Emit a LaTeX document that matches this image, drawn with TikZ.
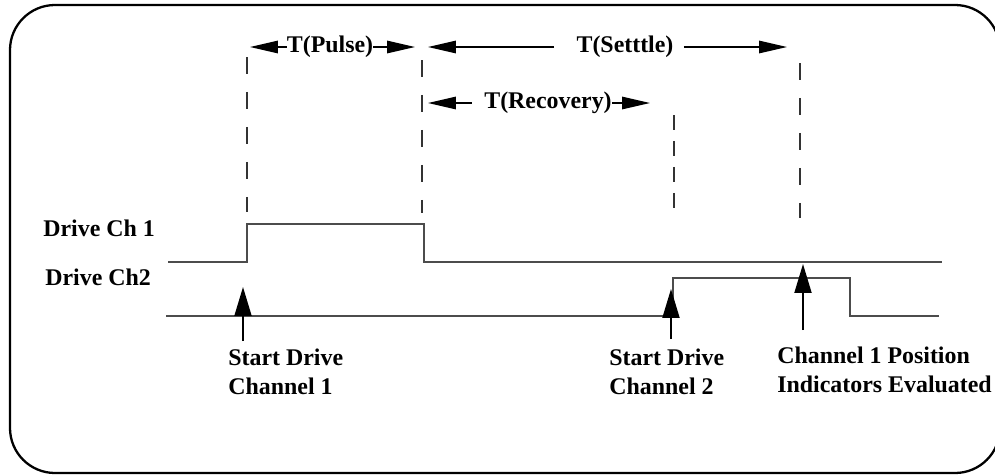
\documentclass[tikz,border=0pt]{standalone}
\usepackage{fontspec}
\setmainfont{Liberation Serif}
\usetikzlibrary{arrows.meta, positioning}
\tikzset{
    frame/.style={draw=black, line width=1.3pt, rounded corners=0.9cm},
    signal/.style={draw=black!70, line width=0.85pt},
    guide/.style={draw=black!80, line width=0.6pt, dash pattern=on 0.34cm off 0.36cm},
    shortguide/.style={draw=black!80, line width=0.6pt, dash pattern=on 0.3cm off 0.22cm},
    txt/.style={font=\bfseries\fontsize{13.6}{16.5}\selectfont, inner sep=0pt},
    dimarrow/.style={-{Triangle[length=0.56cm, width=0.25cm]}, line width=0.8pt},
    evarrow/.style={-{Triangle[length=0.58cm, width=0.34cm]}, line width=1.1pt},
}

\begin{document}
\begin{tikzpicture}[x=0.02cm, y=-0.02cm]
        \useasboundingbox (0,0) rectangle (995,474);
        \draw[frame] (10,5) rectangle (1000,473);

        % Nodes
        \node[txt, anchor=west] (ch1) at (43,228) {Drive Ch 1};
        \node[txt, anchor=west] (ch2) at (45,277) {Drive Ch2};

        \node[txt] (pulse) at (330,47) {T(Pulse)};
        \node[txt] (settle) at (625,47) {T(Setttle)};
        \node[txt] (recov) at (548,103) {T(Recovery)};

        \node[txt, anchor=west, align=left] (start1) at (228,372) {Start Drive\\Channel 1};
        \node[txt, anchor=west, align=left] (start2) at (609,372) {Start Drive\\Channel 2};
        \node[txt, anchor=west, align=left] (eval) at (777,370) {Channel 1 Position\\Indicators Evaluated};

        \coordinate (pulseL) at (250,47);
        \coordinate (pulseR) at (415,47);
        \coordinate (settleL) at (428,47);
        \coordinate (settleR) at (787,47);
        \coordinate (recovL) at (428,103);
        \coordinate (recovR) at (650,103);

        \coordinate (go1) at (243,287);
        \coordinate (go1 tail) at (243,341);
        \coordinate (go2) at (671,289);
        \coordinate (go2 tail) at (671,339);
        \coordinate (check) at (803,264);
        \coordinate (check tail) at (803,330);

        % Guides
        \foreach \x/\ya/\yb in {247/57/212, 422/60/213, 800/63/218}
            \draw[guide] (\x,\ya) -- (\x,\yb);
        \draw[shortguide] (674,115) -- (674,208);

        % Signals
        \draw[signal] (168,262) -- (247,262) -- (247,224) -- (424,224) -- (424,262) -- (942,262);
        \draw[signal] (166,316) -- (673,316) -- (673,278) -- (850,278) -- (850,316) -- (939,316);

        % Connections
        \draw[dimarrow] (pulse.west) -- (pulseL);
        \draw[dimarrow] (pulse.east) -- (pulseR);
        \draw[dimarrow, shorten <=0.44cm] (settle.west) -- (settleL);
        \draw[dimarrow, shorten <=0.2cm] (settle.east) -- (settleR);
        \draw[dimarrow, shorten <=0.24cm] (recov.west) -- (recovL);
        \draw[dimarrow] (recov.east) -- (recovR);

        \draw[evarrow] (go1 tail) -- (go1);
        \draw[evarrow] (go2 tail) -- (go2);
        \draw[evarrow] (check tail) -- (check);
    \end{tikzpicture}
\end{document}
